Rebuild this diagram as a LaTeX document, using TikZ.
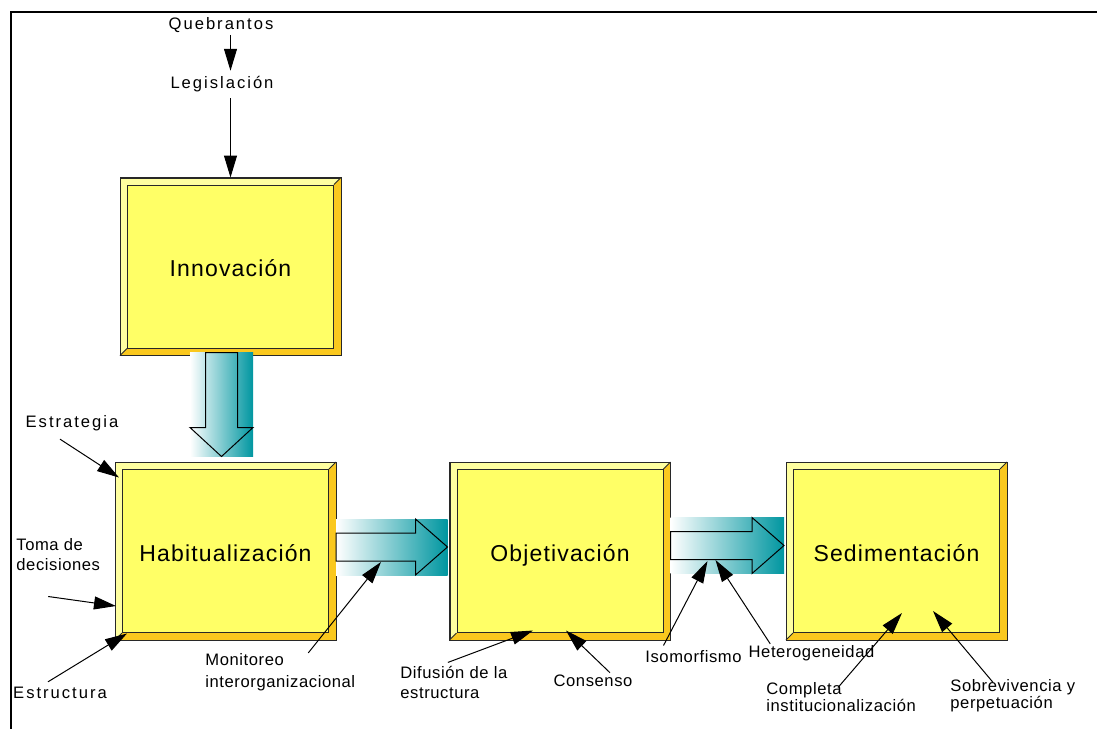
\documentclass[tikz,border=0pt]{standalone}
\usepackage{fontspec}
\setmainfont{Liberation Sans}
\newfontfamily\labelfont{Liberation Sans}[LetterSpace=12]
\newfontfamily\notefont{Liberation Sans}[LetterSpace=3.5]
\newfontfamily\titlefont{Liberation Sans}[LetterSpace=5]
\usetikzlibrary{arrows.meta,calc}

\definecolor{boxfill}{RGB}{255,255,102}
\definecolor{boxlight}{RGB}{255,255,160}
\definecolor{boxdark}{RGB}{250,200,30}
\definecolor{flowteal}{RGB}{0,150,160}
\definecolor{edgegray}{RGB}{40,40,40}

\tikzset{
  outerbox/.style={draw=edgegray, line width=0.5pt, fill=boxlight,
    minimum width=110pt, minimum height=88.5pt, inner sep=0pt},
  innerbox/.style={draw=edgegray, line width=0.5pt, fill=boxfill,
    minimum width=103pt, minimum height=81.5pt, inner sep=0pt,
    text height=10pt, text depth=0pt,
    font=\titlefont\fontsize{11.5}{14}\selectfont},
  lbl/.style={font=\labelfont\fontsize{8.3}{10}\selectfont, inner sep=0pt, align=left},
  note/.style={lbl, font=\notefont\fontsize{8.3}{10}\selectfont},
  cue/.style={line width=0.5pt, -{Triangle[length=11pt,width=6.5pt]}},
  flow/.style={draw=black, line width=0.5pt},
}

% beveled yellow box
\newcommand\bevbox[3]{%
  \node[outerbox] (#1) at (#2) {};
  \fill[boxdark] (#1.south west) -- (#1.south east) -- (#1.north east)
    -- ++(-7,7) |- ($(#1.south west)+(7,-7)$) -- cycle;
  \draw[edgegray, line width=0.5pt] (#1.south west) rectangle (#1.north east);
  \draw[edgegray, line width=0.4pt] (#1.north east) -- ++(-7,7);
  \draw[edgegray, line width=0.4pt] (#1.south west) -- ++(7,-7);
  \node[innerbox] (#1in) at (#1) {#3};
}

% shaded block arrow between two boxes
\newcommand\hflow[3]{%
  \coordinate (#1-out) at ($(#1.east)+(0,#3)$);
  \coordinate (#2-in) at ($(#2.west)+(-2,#3)$);
  \shade[left color=white, right color=flowteal]
    ($(#1-out)+(0,-28)$) rectangle ($(#2-in)+(0,28)$);
  \draw[flow] ($(#1-out)+(0,-14)$) -- ($(#2-in)+(-32,-14)$) -- ($(#2-in)+(-32,-28)$)
    -- (#2-in) -- ($(#2-in)+(-32,28)$) -- ($(#2-in)+(-32,14)$) -- ($(#1-out)+(0,14)$) -- cycle;
}

\begin{document}
\begin{tikzpicture}[x=0.5pt,y=-0.5pt]
  \useasboundingbox (0,0) rectangle (1097,729);
  \draw[line width=0.8pt] (1097,12) -- (11,12) -- (11,729);

  \bevbox{inno}{230.5,266.5}{Innovación}
  \bevbox{habit}{225.5,551}{Habitualización}
  \bevbox{objet}{560,551}{Objetivación}
  \bevbox{sedim}{896.5,551}{Sedimentación}

  % flujo vertical
  \coordinate (inno-out) at ($(inno.south)+(-9,-3)$);
  \coordinate (habit-top) at ($(habit.north)+(-4,-5.5)$);
  \shade[left color=white, right color=flowteal]
    ($(inno-out)+(-31.5,0)$) rectangle ($(habit-top)+(31.5,0)$);
  \draw[flow] ($(inno-out)+(-16,0)$) -- ($(habit-top)+(-16,-29)$) -- ($(habit-top)+(-31.5,-29)$)
    -- (habit-top) -- ($(habit-top)+(31.5,-29)$) -- ($(habit-top)+(16,-29)$) -- ($(inno-out)+(16,0)$) -- cycle;

  \hflow{habit}{objet}{-4}
  \hflow{objet}{sedim}{-5.5}

  \node[lbl] (queb) at (221,25) {Quebrantos};
  \node[lbl] (legis) at (222,84) {Legislación};
  \node[lbl] (estrat) at (72,423) {Estrategia};
  \node[note, anchor=west] (toma) at (16,555) {Toma de\\decisiones};
  \node[lbl] (estruc) at (60,693) {Estructura};
  \node[note, anchor=west] (monit) at (205,672) {Monitoreo\\[1pt]interorganizacional};
  \node[note, anchor=west] (difus) at (400,682) {Difusión de la\\estructura};
  \node[note] (consen) at (593,681) {Consenso};
  \node[note] (isomor) at (693.5,657) {Isomorfismo};
  \node[note] (hetero) at (811.5,653) {Heterogeneidad};
  \node[note, anchor=west] (complet) at (766,697.5) {Completa\\[-1.5pt]institucionalización};
  \node[note, anchor=west] (sobrev) at (950,696) {Sobrevivencia y\\[-1.5pt]perpetuación};

  \draw[cue] ($(queb.south -| inno.north)+(0,2)$) -- ($(legis.north -| inno.north)+(0,-5)$);
  \draw[cue] ($(legis.south -| inno.north)+(0,6)$) -- (inno.north);
  \draw[cue] ($(estrat.south)+(-12,8)$) -- ($(habit.north west)+(4,15.5)$);
  \draw[cue] ($(toma.south)+(-10,25)$) -- ($(habit.west)+(1,55)$);
  \draw[cue] ($(estruc.north)+(-12,-5)$) -- ($(habit.south west)+(12,-6.5)$);
  \draw[cue] ($(monit.north)+(28,0)$) -- ($(habit.east)+(45,11)$);
  \draw[cue] ($(difus.north)+(-6,-3)$) -- ($(objet.south)+(-27,-9.5)$);
  \draw[cue] ($(consen.north)+(17,-2)$) -- ($(objet.south)+(6,-9.5)$);
  \draw[cue] ($(isomor.north)+(-30,-5)$) -- ($(objet.east)+(37,10)$);
  \draw[cue] ($(hetero.north west)+(22,-1)$) -- ($(objet.east)+(45,9)$);
  \draw[cue] ($(complet.north west)+(72,5)$) -- ($(sedim)+(5.5,62)$);
  \draw[cue] ($(sobrev.north west)+(43,3)$) -- ($(sedim)+(36.5,60)$);
\end{tikzpicture}
\end{document}
